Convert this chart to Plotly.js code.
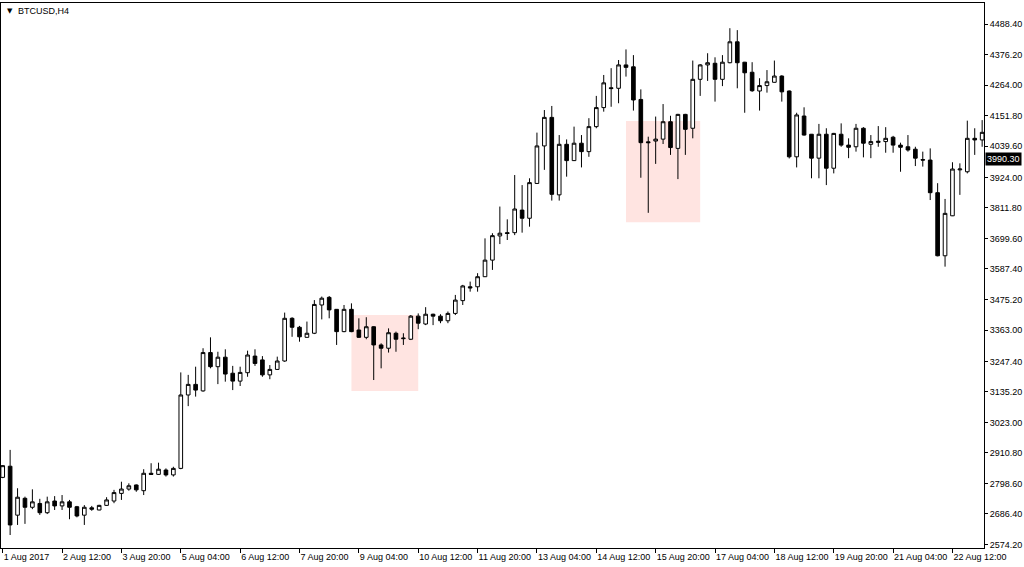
<!DOCTYPE html>
<html>
<head>
<meta charset="utf-8">
<script src="https://cdn.plot.ly/plotly-3.0.1.min.js"></script>
<style>html,body{margin:0;padding:0;background:#fff;}#chart{width:1024px;height:567px;}</style>
</head>
<body>
<div id="chart"></div>
<script>
// BTCUSD H4 candles, 1 Aug 2017 -> 23 Aug 2017
const open = [2821,2862,2682,2744,2711,2725,2691,2734,2716,2731,2713,2682,2709,2701,2718,2734,2762,2778,2793,2772,
2836,2832,2848,2830,2854,3124,3163,3139,3280,3228,3263,3204,3175,3206,3267,3253,3198,3218,3249,3406,
3373,3336,3351,3455,3483,3439,3357,3439,3363,3336,3375,3308,3296,3351,3331,3329,3414,3385,3421,3414,
3397,3424,3471,3522,3522,3559,3620,3709,3721,3721,3804,3774,3902,4040,4145,3860,4046,3986,4050,4019,
4111,4181,4254,4252,4338,4331,4211,4055,4058,4065,4129,4031,4156,4105,4285,4338,4344,4285,4346,4423,
4348,4311,4242,4262,4274,4297,4242,4000,4150,4083,3995,4083,3958,4083,4043,4037,4105,4046,4053,4056,
4072,4043,4037,4028,3990,3988,3868,3636,3783,3952,3945,4068,4062];
const high = [2866,2922,2781,2750,2777,2742,2750,2752,2756,2738,2716,2719,2716,2720,2748,2775,2805,2799,2795,2851,
2873,2875,2854,2860,3207,3198,3228,3296,3336,3283,3292,3231,3228,3287,3292,3267,3234,3265,3427,3410,
3378,3394,3473,3486,3488,3440,3455,3461,3406,3410,3377,3314,3369,3357,3351,3418,3424,3447,3423,3421,
3431,3492,3529,3541,3572,3700,3719,3817,3770,3933,3896,3921,4089,4172,4187,4080,4064,4111,4080,4142,
4224,4301,4326,4356,4395,4374,4248,4074,4148,4194,4151,4158,4158,4354,4341,4381,4366,4374,4473,4466,
4349,4348,4289,4319,4354,4300,4244,4162,4182,4084,4121,4105,4088,4123,4068,4121,4109,4080,4113,4109,
4077,4052,4080,4037,4019,4031,3903,3845,3980,3976,4133,4105,4135];
const low = [2818,2609,2646,2650,2704,2683,2686,2701,2701,2667,2674,2646,2698,2700,2716,2726,2738,2772,2768,2756,
2830,2830,2824,2824,2851,3083,3118,3136,3222,3164,3173,3142,3157,3191,3231,3191,3182,3216,3246,3338,
3320,3335,3348,3402,3406,3308,3355,3355,3334,3329,3179,3222,3280,3283,3308,3326,3366,3381,3381,3388,
3388,3418,3455,3504,3504,3558,3584,3679,3694,3712,3721,3743,3900,3952,3839,3839,3927,3985,3961,4000,
4105,4166,4184,4197,4295,4170,3923,3794,3974,4047,4007,3918,4007,4068,4224,4279,4203,4260,4344,4252,
4162,4239,4170,4236,4273,4203,3994,3961,4078,3921,3921,3896,3939,4037,3995,4019,3998,3995,4037,4015,
4015,3945,4019,3966,3964,3841,3634,3596,3782,3860,3939,4007,4037];
const close = [2864,2646,2748,2711,2731,2691,2731,2716,2731,2711,2679,2711,2704,2718,2738,2765,2778,2790,2775,2836,
2832,2851,2830,2854,3124,3163,3142,3280,3228,3263,3201,3175,3207,3271,3240,3198,3218,3249,3406,3373,
3338,3351,3457,3480,3437,3357,3439,3357,3336,3375,3308,3296,3353,3329,3333,3414,3388,3421,3414,3397,
3424,3473,3525,3518,3559,3620,3710,3719,3718,3808,3774,3905,4040,4145,3862,4046,3986,4050,4019,4111,
4181,4272,4251,4338,4329,4209,4052,4052,4065,4129,4034,4156,4101,4285,4338,4346,4285,4348,4423,4346,
4309,4243,4262,4276,4297,4239,4000,4154,4080,3995,4083,3958,4086,4043,4035,4105,4050,4056,4057,4068,
4043,4035,4025,3995,3988,3868,3636,3792,3955,3955,4068,4062,4090];

// axis labels
const xTickLabels = ["1 Aug 2017","2 Aug 12:00","3 Aug 20:00","5 Aug 04:00","6 Aug 12:00","7 Aug 20:00",
"9 Aug 04:00","10 Aug 12:00","11 Aug 20:00","13 Aug 04:00","14 Aug 12:00","15 Aug 20:00",
"17 Aug 04:00","18 Aug 12:00","19 Aug 20:00","21 Aug 04:00","22 Aug 12:00"];
const yTickVals = [4488.40,4376.20,4264.00,4151.80,4039.60,3924.00,3811.80,3699.60,3587.40,3475.20,
3363.00,3247.40,3135.20,3023.00,2910.80,2798.60,2686.40,2574.20];
const lastPrice = 3990.30;

// highlighted zones (bar index start/end, price top/bottom)
const zoneStart = [47, 84];
const zoneEnd = [56, 94];
const zoneTop = [3418, 4132];
const zoneBottom = [3139, 3759];

// bar times (4h bars; one bar missing on 1 Aug)
const t0 = Date.UTC(2017,7,1,0,0);
const times = open.map((_, i) => {
  const h = i === 0 ? 0 : (i + 1) * 4;
  return new Date(t0 + h * 3600e3).toISOString().slice(0,16).replace('T',' ');
});
const tickVals = xTickLabels.map((_, k) => times[k * 8]);

const trace = {
  type: 'candlestick',
  x: times, open: open, high: high, low: low, close: close,
  increasing: {line: {color: '#000', width: 1}, fillcolor: '#fff'},
  decreasing: {line: {color: '#000', width: 1}, fillcolor: '#000'},
  whiskerwidth: 0,
  hoverinfo: 'none',
  showlegend: false
};

const font = {family: 'Liberation Sans, Arial, sans-serif', size: 9, color: '#000'};

const shapes = zoneStart.map((s, k) => ({
  type: 'rect', xref: 'x', yref: 'y', layer: 'below',
  x0: times[s], x1: times[zoneEnd[k]], y0: zoneBottom[k], y1: zoneTop[k],
  fillcolor: '#FFE4E1', line: {width: 0}
}));

const layout = {
  width: 1024, height: 567,
  margin: {l: 1, r: 40, t: 3, b: 19},
  paper_bgcolor: '#fff', plot_bgcolor: '#fff',
  font: font,
  showlegend: false,
  xaxis: {
    type: 'category',
    range: [-0.23, times.length - 0.75],
    rangeslider: {visible: false},
    showgrid: false, zeroline: false,
    showline: true, linecolor: '#000', linewidth: 1, mirror: true,
    ticks: 'outside', ticklen: 4, tickcolor: '#000', tickwidth: 1,
    tickmode: 'array', tickvals: tickVals, ticktext: xTickLabels,
    ticklabelposition: 'outside right',
    tickfont: font, tickangle: 0
  },
  yaxis: {
    side: 'right',
    range: [2561.2, 4565.7],
    showgrid: false, zeroline: false,
    showline: true, linecolor: '#000', linewidth: 1, mirror: true,
    ticks: 'outside', ticklen: 3, tickcolor: '#000', tickwidth: 1,
    tickmode: 'array', tickvals: yTickVals, ticktext: yTickVals.map(v => v.toFixed(2)),
    tickfont: font
  },
  shapes: shapes,
  annotations: [
    {xref: 'paper', yref: 'paper', x: 0.004, y: 1, xanchor: 'left', yanchor: 'top', yshift: -2,
     text: '▼', showarrow: false, font: {family: 'DejaVu Sans, sans-serif', size: 7, color: '#000'}},
    {xref: 'paper', yref: 'paper', x: 0.015, y: 1, xanchor: 'left', yanchor: 'top', yshift: -1,
     text: 'BTCUSD,H4', showarrow: false, font: font},
    {xref: 'paper', yref: 'y', x: 1, y: lastPrice, xanchor: 'left', yanchor: 'middle', xshift: 1,
     text: lastPrice.toFixed(2), showarrow: false, bgcolor: '#000', borderpad: 1,
     font: {family: font.family, size: 9, color: '#fff'}}
  ]
};

Plotly.newPlot('chart', [trace], layout, {staticPlot: true, displayModeBar: false});
</script>
</body>
</html>
